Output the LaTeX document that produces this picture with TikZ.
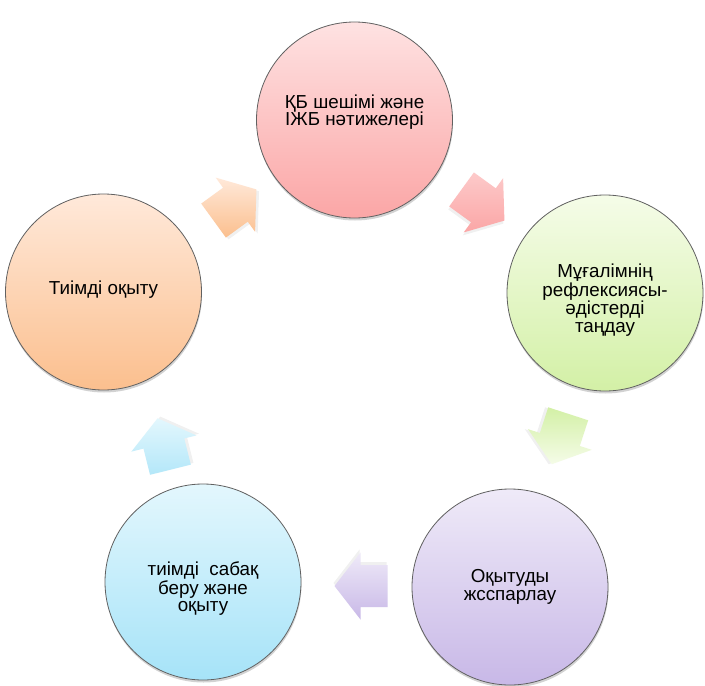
\documentclass[tikz,border=0pt]{standalone}
\usepackage{fontspec}
\setmainfont{Liberation Sans}
\usetikzlibrary{shadows,calc}
\definecolor{pinkT}{HTML}{FEE2E2}\definecolor{pinkB}{HTML}{FBA6A6}
\definecolor{greenT}{HTML}{F5FCE8}\definecolor{greenB}{HTML}{D3F0A6}
\definecolor{purpT}{HTML}{EFEAF8}\definecolor{purpB}{HTML}{C8B8E7}
\definecolor{blueT}{HTML}{E3F7FD}\definecolor{blueB}{HTML}{A6E3F8}
\definecolor{oranT}{HTML}{FFE9DA}\definecolor{oranB}{HTML}{FBBF8E}
\tikzset{
  x=1pt, y=1pt,
  cyc/.style={circle, minimum size=196pt, inner sep=0pt, draw=black!62, line width=0.8pt,
    align=center, font=\fontsize{18.8}{17.5}\selectfont,
    drop shadow={shadow xshift=0.5pt, shadow yshift=-2.5pt, opacity=0.35}},
  blockarr/.pic={
    \path[fill=black, fill opacity=0.06] (-25.5,-24) -- (1.5,-24) -- (1.5,-36.5) -- (27.5,-3) -- (1.5,30.5) -- (1.5,18) -- (-25.5,18) -- cycle;
    \path[pic actions] (-26.5,-21) -- (0.5,-21) -- (0.5,-33.5) -- (26.5,0) -- (0.5,33.5) -- (0.5,21) -- (-26.5,21) -- cycle;
  }
}
\begin{document}
\begin{tikzpicture}
\useasboundingbox[fill=white] (0,0) rectangle (705,-686);
% circles
\node[cyc, top color=pinkT, bottom color=pinkB] (c1) at (354.5,-120) {ҚБ шешімі және\\ІЖБ нәтижелері\\[2pt]};
\node[cyc, top color=greenT, bottom color=greenB] (c2) at (605,-293) {\\[10pt]Мұғалімнің\\рефлексиясы-\\әдістерді\\таңдау};
\node[cyc, top color=purpT, bottom color=purpB] (c3) at (510,-587) {Оқытуды\\жсспарлау};
\node[cyc, top color=blueT, bottom color=blueB] (c4) at (203,-582) {\\[10pt]тиімді\ \ сабақ\\беру және\\оқыту};
\node[cyc, top color=oranT, bottom color=oranB] (c5) at (103.5,-292) {\\[-9.5pt]Тиімді оқыту};
% block arrows
\pic[rotate=-36, top color=pinkT!60!pinkB, bottom color=pinkB] at (483,-205) {blockarr};
\pic[rotate=-108, top color=greenB, bottom color=greenT] at (560,-439) {blockarr};
\pic[rotate=180, top color=purpT, bottom color=purpB] at (361,-586) {blockarr};
\pic[rotate=104, top color=blueT, bottom color=blueB!85!white] at (164,-444) {blockarr};
\pic[rotate=36, top color=oranT, bottom color=oranB] at (235,-205) {blockarr};
\end{tikzpicture}
\end{document}
